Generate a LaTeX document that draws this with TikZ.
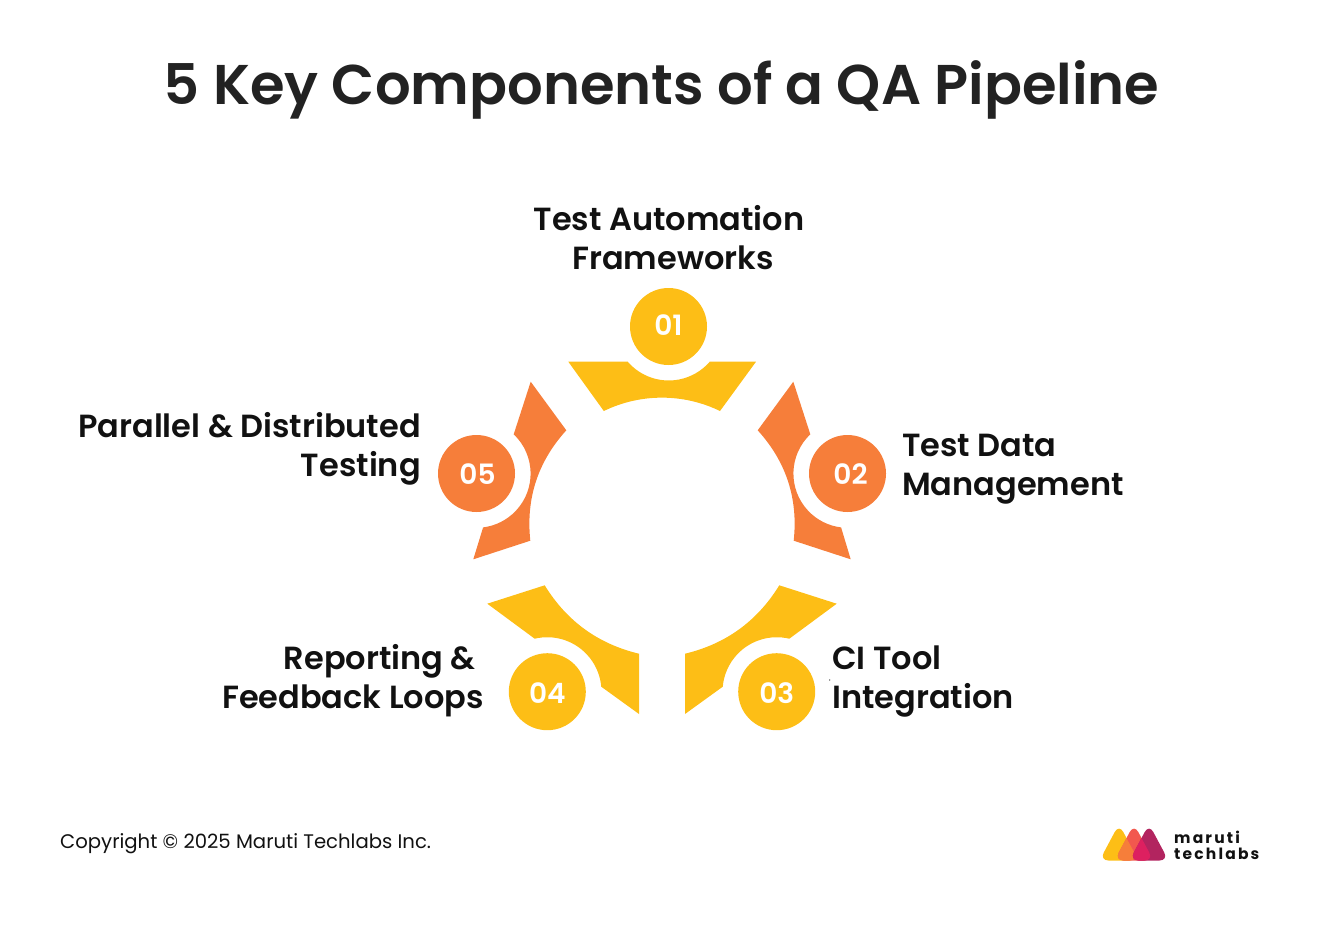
\documentclass[tikz,border=0pt]{standalone}
\usepackage{fontspec}
\setmainfont{Poppins}
\newfontfamily\semi{Poppins SemiBold}
\newfontfamily\logofont{Poppins Bold}[LetterSpace=14]
\definecolor{yel}{HTML}{FDBE16}
\definecolor{ora}{HTML}{F67E3A}
\definecolor{ink}{HTML}{111111}
\definecolor{ttl}{HTML}{222222}
\definecolor{lgred}{HTML}{F2584E}
\definecolor{lgpink}{HTML}{DD2060}
\definecolor{lgmag}{HTML}{B2245F}
\tikzset{
  badge/.style={circle,minimum size=77pt,inner sep=0pt,text=white,text depth=0pt,font=\semi\fontsize{28}{28}\selectfont},
  lab/.style={text=ink,inner sep=0pt,font=\semi\fontsize{32}{39}\selectfont},
  tri/.style={rounded corners=9pt},
}
\begin{document}
\begin{tikzpicture}[x=1pt,y=1pt,yscale=-1]
\useasboundingbox (0,0) rectangle (1321,926);
\node[text=ttl,inner sep=0pt,font=\semi\fontsize{56}{56}\selectfont] (title) at (661.5,90) {5 Key Components of a QA Pipeline};
% segments
\fill[yel] (568.3,361.7) -- (627.7,361.7) arc[start angle=139.2,end angle=40.8,radius=54.2pt] -- (756,361.7) -- (720,411) arc[start angle=295.9,end angle=244.1,radius=133pt] -- cycle;
\fill[ora] (793.3,381.7) -- (810.3,434.3) arc[start angle=226.5,end angle=96.9,radius=54.2pt] -- (850.7,559.3) -- (793.7,540.7) .. controls (798.2,498.5) and (786.2,461.7) .. (757.7,430.3) -- cycle;
\fill[ora] (530.7,381.7) -- (513.7,434.3) arc[start angle=-46.5,end angle=82.9,radius=54.2pt] -- (473.3,559.3) -- (530.3,540.7) .. controls (525.8,498.5) and (537.8,461.7) .. (566.3,430.3) -- cycle;
\fill[yel] (685,653.7) .. controls (725.9,643.9) and (757.3,621.1) .. (779.3,585.3) -- (836.7,603.7) -- (789.3,638.7) arc[start angle=283.4,end angle=185,radius=54.2pt] -- (685,714) -- cycle;
\fill[yel] (639,653.7) .. controls (598.1,643.9) and (566.7,621.1) .. (544.7,585.3) -- (487.3,603.7) -- (534.7,638.7) arc[start angle=256.6,end angle=355,radius=54.2pt] -- (639,714) -- cycle;
% badges
\node[badge,fill=yel,text height=18.4pt] (b1) at (668.5,326.5) {01};
\node[badge,fill=ora,text height=21pt] (b2) at (847.5,473.5) {\kern6pt 02};
\node[badge,fill=yel,text height=23.2pt] (b3) at (776.7,691.7) {03};
\node[badge,fill=yel,text height=23.2pt] (b4) at (547.3,691.7) {04};
\node[badge,fill=ora,text height=21pt] (b5) at (476.5,473.5) {\kern2pt 05};
% labels
\node[lab,align=center] (l1) at (673,237.5) {Test Automation\kern8pt\\Frameworks};
\node[lab,align=left,anchor=west] (l2) at (902,469) {Test Data\\Management};
\node[lab,align=left,anchor=west] (l3) at (832,682) {CI Tool\\Integration};
\node[lab,align=right,anchor=east] (l4) at (484,681) {Reporting \&\kern8pt\\Feedback Loops};
\node[lab,align=right,anchor=east] (l5) at (421,449) {Parallel \& Distributed\\Testing};
\node[text=ink,inner sep=0pt,anchor=west,font=\fontsize{19.65}{20}\selectfont] (copy) at (60,844) {Copyright © 2025 Maruti Techlabs Inc.};
\fill[ink] (829.7,680) circle (0.6pt);
% logo
\fill[yel,tri] (1099.5,860.5) -- (1119,824) -- (1138.5,860.5) -- cycle;
\fill[lgred,tri] (1114.5,860.5) -- (1134,824) -- (1153.5,860.5) -- cycle;
\begin{scope}
\clip[tri] (1099.5,860.5) -- (1119,824) -- (1138.5,860.5) -- cycle;
\fill[ora,tri] (1114.5,860.5) -- (1134,824) -- (1153.5,860.5) -- cycle;
\end{scope}
\fill[lgmag,tri] (1129.5,860.5) -- (1149,824) -- (1168.5,860.5) -- cycle;
\begin{scope}
\clip[tri] (1114.5,860.5) -- (1134,824) -- (1153.5,860.5) -- cycle;
\fill[lgpink,tri] (1129.5,860.5) -- (1149,824) -- (1168.5,860.5) -- cycle;
\end{scope}
\node[text=ink,inner sep=0pt,anchor=west,font=\logofont\fontsize{15.5}{16}\selectfont,align=left] (logo) at (1174,845.5) {maruti\\techlabs};
\end{tikzpicture}
\end{document}
